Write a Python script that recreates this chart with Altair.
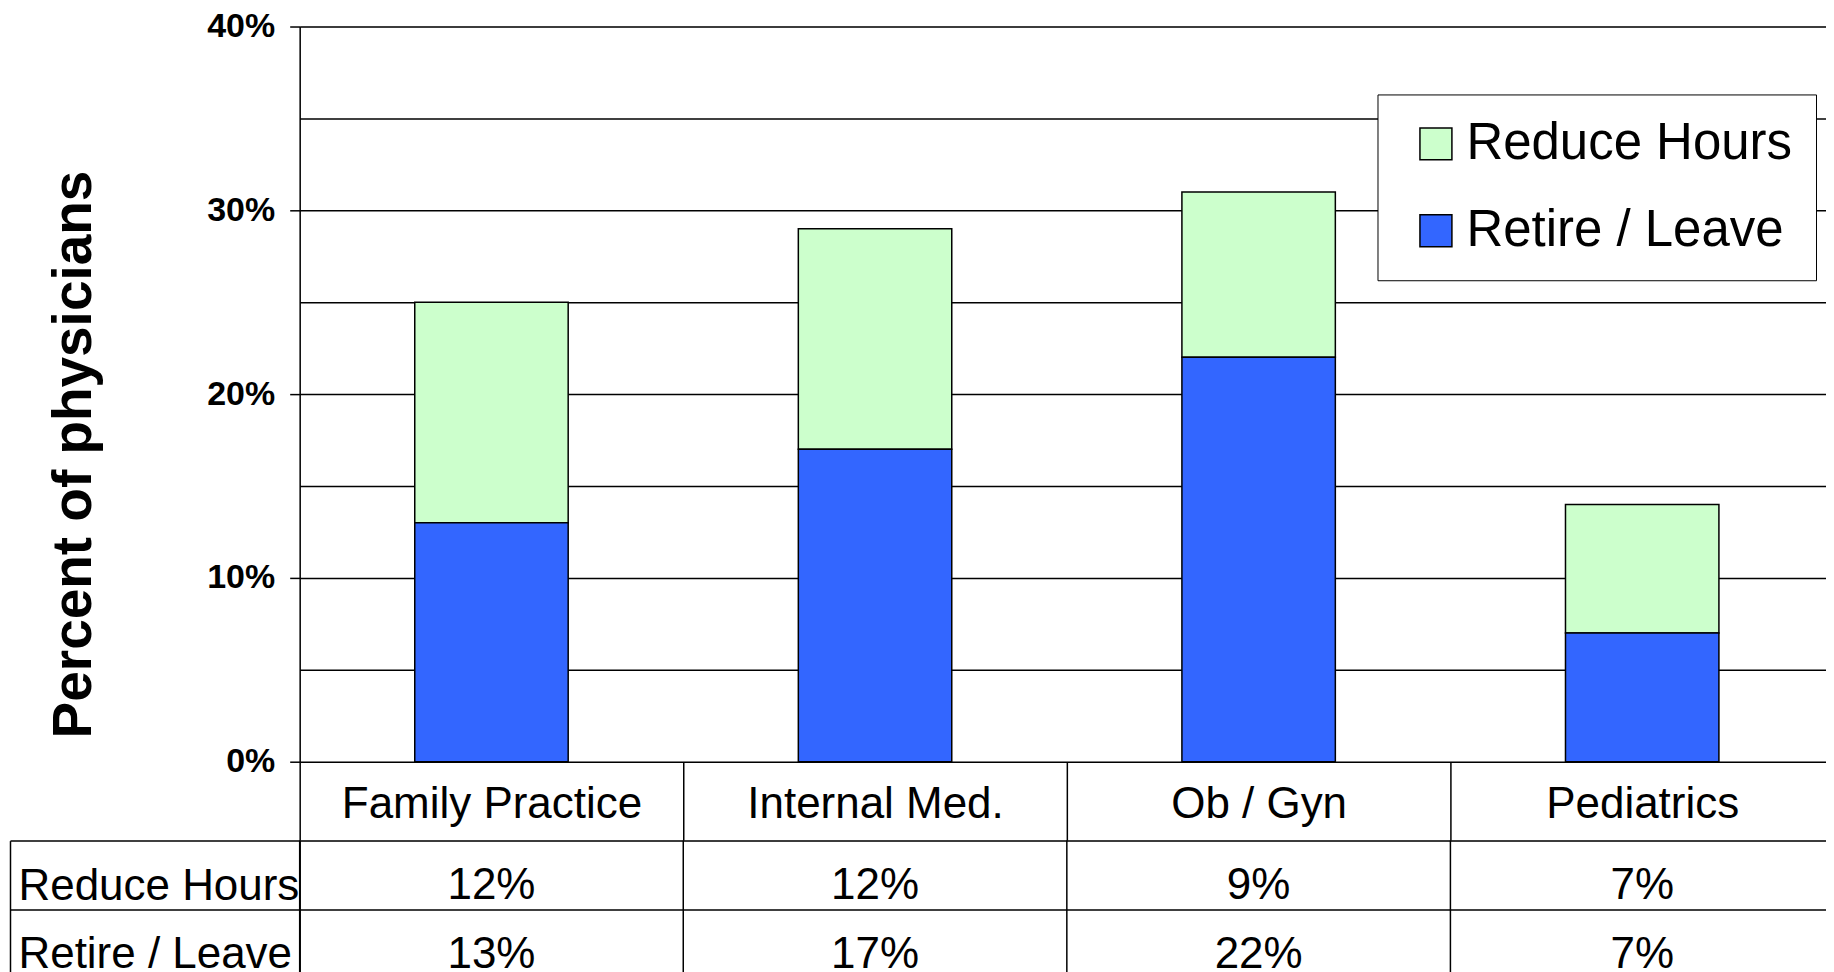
import altair as alt
import pandas as pd

categories = ["Family Practice", "Internal Med.", "Ob / Gyn", "Pediatrics"]
series = ["Reduce Hours", "Retire / Leave"]
reduce_hours = [12, 12, 9, 7]
retire_leave = [13, 17, 22, 7]
stack_rank = {"Retire / Leave": 0, "Reduce Hours": 1}
colors = ["#CCFFCC", "#3366FF"]
y_ticks = [0, 5, 10, 15, 20, 25, 30, 35, 40]

rows = []
for i, c in enumerate(categories):
    rows.append({"category": c, "series": "Reduce Hours", "value": reduce_hours[i]})
    rows.append({"category": c, "series": "Retire / Leave", "value": retire_leave[i]})
df = pd.DataFrame(rows)
df["rank"] = df["series"].map(stack_rank)
df["label"] = df["value"].astype(str) + "%"
cat_df = pd.DataFrame({"category": categories})

FONT = "Liberation Sans"
LW = 1.5
W = 1536                      # plot width; its right edge runs past the page and is clipped
HALF = W / len(categories) / 2
HEADER = 79
band = alt.Scale(paddingInner=0, paddingOuter=0)

bars = alt.Chart(df).mark_bar(
    width=alt.RelativeBandSize(0.4), stroke="black", strokeWidth=LW
).encode(
    x=alt.X("category:N", sort=categories, scale=band,
            axis=alt.Axis(title=None, orient="bottom", tickSize=HEADER,
                          tickOffset=-HALF, labelOffset=HALF, domain=False,
                          tickColor="black", tickWidth=LW,
                          labelFontSize=44, labelFont=FONT,
                          labelColor="black", labelPadding=-36, labelBaseline="middle",
                          labelAngle=0, grid=False, labelLimit=0)),
    y=alt.Y("value:Q", stack="zero", scale=alt.Scale(domain=[0, 40], nice=False),
            axis=alt.Axis(values=y_ticks,
                          labelExpr="datum.value % 10 === 0 ? datum.value + '%' : ''",
                          title="Percent of physicians", titleFont=FONT, titleFontSize=55,
                          titleFontWeight="bold", titleColor="black", titleAngle=270,
                          titleAlign="center", titleBaseline="alphabetic",
                          titleX=-209, titleY=428,
                          labelFont=FONT, labelFontSize=34, labelFontWeight="bold",
                          labelColor="black", labelPadding=15,
                          tickSize=10, tickColor="black", tickWidth=LW,
                          tickOpacity={"condition": {"test": "datum.value % 10 === 0", "value": 1}, "value": 0},
                          grid=True, gridColor="black", gridWidth=LW, gridOpacity=1,
                          domainColor="black", domainWidth=LW)),
    color=alt.Color("series:N", scale=alt.Scale(domain=series, range=colors),
                    legend=alt.Legend(title=None, orient="none", legendX=1079, legendY=68,
                                      direction="vertical", symbolType="square",
                                      symbolSize=1024, symbolStrokeColor="black",
                                      symbolStrokeWidth=LW, symbolOpacity=1,
                                      labelFont=FONT, labelFontSize=51, labelColor="black",
                                      labelOffset=5, rowPadding=35, padding=24,
                                      strokeColor="black", fillColor="white",
                                      symbolOffset=9, labelLimit=0)),
    order=alt.Order("rank:Q", sort="ascending"),
).properties(width=W, height=736)

table_text = alt.Chart(df).mark_text(font=FONT, fontSize=44, color="black", dy=11).encode(
    x=alt.X("category:N", sort=categories, scale=band, axis=None),
    y=alt.Y("series:N", sort=series, scale=band,
            axis=alt.Axis(title=None, orient="left", tickBand="extent", tickSize=290,
                          tickColor="black", tickWidth=LW, grid=True, gridColor="black",
                          gridWidth=LW, gridOpacity=1, domain=True, domainColor="black",
                          domainWidth=LW, labelAlign="left", labelPadding=-8,
                          labelBaseline="middle", labelOffset=11, labelFont=FONT,
                          labelFontSize=44, labelColor="black", labelLimit=0)),
    text="label:N",
)

table_cols = alt.Chart(cat_df).mark_rule(color="black", strokeWidth=LW).encode(
    x=alt.X("category:N", sort=categories, scale=band, bandPosition=0, axis=None),
)

table_border = alt.Chart(df).mark_text(text="").encode(
    y=alt.Y("series:N", sort=series, scale=band,
            axis=alt.Axis(title=None, orient="left", offset=290, labels=False, ticks=False,
                          grid=False, domain=True, domainColor="black", domainWidth=LW)),
)

table = alt.layer(table_text, table_cols, table_border).resolve_axis(
    y="independent").properties(width=W, height=138)

chart = alt.vconcat(bars, table, spacing=HEADER, bounds="flush").properties(
    padding={"left": 0, "top": 0, "right": -9, "bottom": 0}
).configure_view(stroke=None).configure(font=FONT)

chart.save("out.html", embed_options={"renderer": "svg", "actions": False})
